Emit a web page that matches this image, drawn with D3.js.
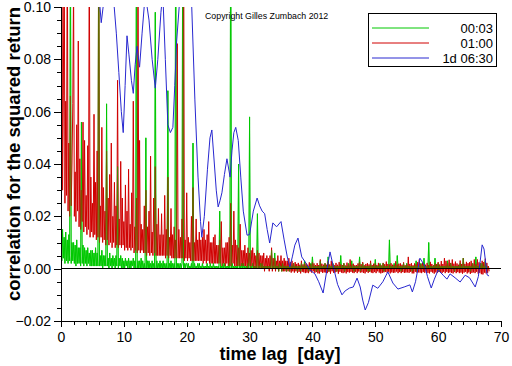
<!DOCTYPE html>
<html>
<head>
<meta charset="utf-8">
<script src="https://cdn.jsdelivr.net/npm/d3@7"></script>
<style>
  body { margin: 0; background: #fff; }
  svg { display: block; font-family: "Liberation Sans", Arial, sans-serif; }
</style>
</head>
<body>
<div id="chart"></div>
<script>
// lag step of the two intraday series, in days
const lagStep = 0.125

const seriesNames = ["00:03", "01:00", "1d 06:30"]
const seriesColors = ["#00c800", "#d00000", "#2828d0"]

const xTicks = [0, 10, 20, 30, 40, 50, 60, 70]
const yTicks = [-0.02, 0.00, 0.02, 0.04, 0.06, 0.08, 0.10]

// 01:00 series, 8 values per day
const redVals = [
  0.070, 0.180, 0.030, 0.066, 0.140, 0.025, 0.064, 0.028,
  0.130, 0.022, 0.048, 0.020, 0.066, 0.024, 0.040, 0.063,
  0.110, 0.020, 0.037, 0.018, 0.055, 0.022, 0.087, 0.016,
  0.042, 0.015, 0.030, 0.018, 0.056, 0.014, 0.049, 0.016,
  0.028, 0.013, 0.047, 0.015, 0.130, 0.012, 0.035, 0.014,
  0.025, 0.012, 0.059, 0.013, 0.033, 0.011, 0.045, 0.012,
  0.140, 0.010, 0.024, 0.012, 0.054, 0.010, 0.031, 0.011,
  0.022, 0.009, 0.045, 0.011, 0.027, 0.009, 0.036, 0.010,
  0.048, 0.008, 0.020, 0.010, 0.033, 0.008, 0.024, 0.009,
  0.072, 0.008, 0.019, 0.009, 0.041, 0.008, 0.027, 0.009,
  0.018, 0.007, 0.032, 0.008, 0.022, 0.007, 0.038, 0.008,
  0.017, 0.007, 0.029, 0.008, 0.064, 0.006, 0.016, 0.007,
  0.027, 0.006, 0.120, 0.007, 0.049, 0.006, 0.017, 0.007,
  0.015, 0.006, 0.024, 0.006, 0.030, 0.005, 0.016, 0.006,
  0.022, 0.005, 0.043, 0.006, 0.014, 0.005, 0.027, 0.006,
  0.039, 0.005, 0.017, 0.005, 0.023, 0.005, 0.013, 0.005,
  0.021, 0.005, 0.013, 0.005, 0.028, 0.004, 0.015, 0.005,
  0.035, 0.004, 0.012, 0.005, 0.023, 0.004, 0.013, 0.004,
  0.016, 0.004, 0.011, 0.004, 0.086, 0.004, 0.015, 0.004,
  0.012, 0.004, 0.019, 0.004, 0.150, 0.003, 0.011, 0.004,
  0.029, 0.003, 0.012, 0.004, 0.010, 0.003, 0.020, 0.003,
  0.031, 0.003, 0.010, 0.003, 0.019, 0.003, 0.011, 0.003,
  0.014, 0.003, 0.011, 0.003, 0.012, 0.002, 0.015, 0.003,
  0.011, 0.002, 0.013, 0.003, 0.018, 0.002, 0.010, 0.002,
  0.010, 0.002, 0.012, 0.002, 0.013, 0.002, 0.009, 0.002,
  0.009, 0.002, 0.011, 0.002, 0.018, 0.001, 0.008, 0.002,
  0.008, 0.001, 0.010, 0.002, 0.010, 0.001, 0.012, 0.001,
  0.025, 0.001, 0.009, 0.002, 0.022, 0.001, 0.011, 0.001,
  0.009, 0.001, 0.008, 0.001, 0.017, 0.001, 0.007, 0.001,
  0.007, 0.001, 0.009, 0.001, 0.006, 0.000, 0.008, 0.001,
  0.006, 0.000, 0.007, 0.001, 0.008, 0.000, 0.006, 0.000,
  0.005, 0.000, 0.007, 0.000, 0.006, 0.000, 0.005, 0.000,
  0.005, 0.000, 0.006, -0.001, 0.004, 0.000, 0.005, 0.000,
  0.004, -0.001, 0.005, 0.000, 0.008, -0.001, 0.004, 0.000,
  0.004, -0.001, 0.003, 0.000, 0.005, -0.001, 0.003, 0.000,
  0.005, -0.001, 0.003, -0.001, 0.004, -0.001, 0.003, -0.001,
  0.003, -0.001, 0.004, -0.001, 0.0025, -0.0015, 0.003, -0.001,
  0.002, -0.0015, 0.0025, -0.001, 0.0018, -0.0016, 0.0022, -0.0012,
  0.0015, -0.0018, 0.003, -0.0012, 0.0016, -0.0014, 0.002, -0.0017,
  0.002, -0.0015, 0.0015, -0.0017, 0.0024, -0.0011, 0.0017, -0.0015,
  0.0025, -0.001, 0.002, -0.0016, 0.0014, -0.0013, 0.0021, -0.0018,
  0.0014, -0.0018, 0.0035, -0.0012, 0.0019, -0.0016, 0.0015, -0.0014,
  0.002, -0.0015, 0.0015, -0.0017, 0.0028, -0.0012, 0.0016, -0.0019,
  0.003, -0.001, 0.0018, -0.0016, 0.0013, -0.0014, 0.0022, -0.0011,
  0.0015, -0.0019, 0.0025, -0.0012, 0.0017, -0.0015, 0.0014, -0.0017,
  0.002, -0.0014, 0.0012, -0.0018, 0.0023, -0.0013, 0.0016, -0.0015,
  0.0035, -0.0012, 0.0016, -0.0015, 0.0019, -0.0017, 0.0013, -0.0012,
  0.0014, -0.0017, 0.002, -0.0011, 0.0026, -0.0015, 0.0017, -0.0014,
  0.0025, -0.0016, 0.0013, -0.0018, 0.0018, -0.0012, 0.0021, -0.0016,
  0.0016, -0.0012, 0.003, -0.0015, 0.0014, -0.0017, 0.0019, -0.0013,
  0.002, -0.0017, 0.0014, -0.001, 0.0022, -0.0015, 0.0016, -0.0018,
  0.0012, -0.0016, 0.0022, -0.0014, 0.0017, -0.0012, 0.0027, -0.0015,
  0.0018, -0.0012, 0.0016, -0.0018, 0.0021, -0.0014, 0.0015, -0.0016,
  0.0014, -0.0015, 0.0028, -0.0011, 0.0016, -0.0017, 0.0019, -0.0013,
  0.002, -0.0017, 0.0015, -0.0013, 0.0024, -0.0016, 0.0013, -0.0015,
  0.0016, -0.0014, 0.0045, -0.0016, 0.0018, -0.0012, 0.0021, -0.0018,
  0.0013, -0.0018, 0.002, -0.0012, 0.0017, -0.0015, 0.0025, -0.0014,
  0.0035, -0.0015, 0.0017, -0.0017, 0.0022, -0.0013, 0.0016, -0.0016,
  0.0015, -0.0012, 0.0022, -0.0016, 0.0014, -0.0018, 0.0026, -0.0012,
  0.0018, -0.0015, 0.0013, -0.0019, 0.002, -0.0014, 0.0017, -0.0016,
  0.0025, -0.0013, 0.0016, -0.0015, 0.0029, -0.0017, 0.0018, -0.0012,
  0.004, -0.0017, 0.003, -0.0012, 0.0021, -0.0016, 0.0034, -0.0014,
  0.0022, -0.0016, 0.0035, -0.0018, 0.0019, -0.0013, 0.0027, -0.0017,
  0.002, -0.0013, 0.0015, -0.0017, 0.0031, -0.0015, 0.0018, -0.0019,
  0.004, -0.0015, 0.0018, -0.0012, 0.0026, -0.0018, 0.0021, -0.0014,
  0.0025, -0.002, 0.003, -0.0016, 0.0019, -0.0014, 0.0035, -0.0017,
  0.0018, -0.0012, 0.0035, -0.0019, 0.0024, -0.0016, 0.002, -0.0021,
  0.003, -0.0022, 0.0025, -0.0015, 0.0038, -0.0018, 0.0022, -0.0016,
  0.001, -0.001
]

// 00:03 series, 8 values per day
const greenVals = [
  0.027, 0.003, 0.015, 0.004, 0.012, 0.002, 0.014, 0.003,
  0.011, 0.002, 0.013, 0.003, 0.130, 0.002, 0.010, 0.003,
  0.010, 0.002, 0.009, 0.001, 0.011, 0.002, 0.008, 0.002,
  0.008, 0.001, 0.056, 0.002, 0.009, 0.001, 0.008, 0.002,
  0.007, 0.001, 0.008, 0.002, 0.006, 0.001, 0.007, 0.001,
  0.007, 0.001, 0.006, 0.001, 0.008, 0.001, 0.006, 0.001,
  0.140, 0.001, 0.005, 0.001, 0.007, 0.000, 0.005, 0.001,
  0.005, 0.001, 0.063, 0.001, 0.004, 0.000, 0.006, 0.001,
  0.004, 0.000, 0.005, 0.001, 0.004, 0.000, 0.005, 0.001,
  0.039, 0.000, 0.004, 0.001, 0.005, 0.000, 0.004, 0.000,
  0.003, 0.000, 0.004, 0.001, 0.003, 0.000, 0.004, 0.000,
  0.003, 0.000, 0.003, 0.001, 0.004, 0.000, 0.003, 0.000,
  0.140, 0.000, 0.003, 0.000, 0.003, 0.000, 0.004, 0.000,
  0.003, 0.000, 0.002, 0.000, 0.050, 0.000, 0.003, 0.000,
  0.003, 0.000, 0.002, 0.000, 0.003, 0.000, 0.002, 0.000,
  0.098, 0.000, 0.003, 0.000, 0.002, 0.000, 0.003, 0.000,
  0.002, 0.000, 0.003, 0.000, 0.002, 0.000, 0.002, 0.000,
  0.068, 0.000, 0.002, 0.000, 0.003, 0.000, 0.002, 0.000,
  0.002, 0.000, 0.150, 0.000, 0.002, 0.000, 0.002, 0.000,
  0.002, 0.000, 0.002, 0.150, 0.000, 0.002, 0.000, 0.002,
  0.002, 0.000, 0.002, 0.000, 0.001, 0.000, 0.002, 0.000,
  0.048, 0.000, 0.002, 0.000, 0.001, 0.000, 0.002, 0.000,
  0.002, 0.000, 0.001, 0.000, 0.002, 0.000, 0.001, 0.000,
  0.001, 0.000, 0.002, 0.000, 0.001, 0.000, 0.002, 0.000,
  0.001, 0.000, 0.002, 0.000, 0.001, 0.000, 0.001, 0.000,
  0.001, 0.000, 0.022, 0.000, 0.001, 0.000, 0.002, 0.000,
  0.002, 0.000, 0.001, 0.000, 0.001, 0.000, 0.002, 0.000,
  0.150, 0.000, 0.002, 0.000, 0.001, 0.000, 0.001, 0.000,
  0.001, 0.000, 0.040, 0.000, 0.001, 0.000, 0.002, 0.000,
  0.002, 0.000, 0.001, 0.000, 0.001, 0.000, 0.002, 0.000,
  0.058, 0.000, 0.001, 0.000, 0.002, 0.000, 0.001, 0.000,
  0.001, 0.000, 0.021, 0.000, 0.001, 0.000, 0.002, 0.000,
  0.002, 0.000, 0.001, 0.000, 0.001, 0.000, 0.001, 0.000,
  0.001, 0.000, 0.001, 0.000, 0.007, 0.000, 0.001, 0.000,
  0.006, 0.000, 0.001, 0.000, 0.001, -0.001, 0.002, 0.000,
  0.001, -0.001, 0.002, 0.000, 0.001, 0.000, 0.001, -0.001,
  0.001, 0.000, 0.001, -0.001, 0.002, 0.000, 0.001, 0.000,
  0.002, 0.000, 0.001, 0.000, 0.001, -0.001, 0.001, 0.000,
  0.001, -0.001, 0.002, 0.000, 0.001, 0.000, 0.003, 0.000,
  0.001, 0.000, 0.001, -0.001, 0.001, 0.000, 0.002, 0.000,
  0.0045, 0.000, 0.001, 0.000, 0.001, -0.001, 0.001, 0.000,
  0.001, -0.001, 0.003, 0.000, 0.001, 0.000, 0.001, 0.000,
  0.002, 0.000, 0.001, 0.000, 0.0045, -0.001, 0.001, 0.000,
  0.001, 0.000, 0.002, 0.000, 0.001, 0.000, 0.001, -0.001,
  0.001, 0.000, 0.001, 0.000, 0.005, 0.000, 0.001, 0.000,
  0.002, -0.001, 0.001, 0.000, 0.001, 0.000, 0.002, 0.000,
  0.001, 0.000, 0.003, 0.000, 0.001, -0.001, 0.001, 0.000,
  0.001, 0.000, 0.001, 0.000, 0.0045, -0.001, 0.001, 0.000,
  0.002, 0.000, 0.001, 0.000, 0.001, 0.000, 0.001, -0.001,
  0.001, -0.001, 0.002, 0.000, 0.001, 0.000, 0.001, 0.000,
  0.0035, 0.000, 0.001, 0.000, 0.001, 0.000, 0.002, 0.000,
  0.001, 0.000, 0.002, -0.001, 0.001, 0.000, 0.001, 0.000,
  0.001, 0.000, 0.011, 0.000, 0.001, 0.000, 0.001, 0.000,
  0.002, 0.000, 0.001, 0.000, 0.005, 0.000, 0.001, 0.000,
  0.001, -0.001, 0.001, 0.000, 0.002, 0.000, 0.001, 0.000,
  0.002, 0.000, 0.001, 0.000, 0.001, 0.000, 0.001, -0.001,
  0.001, 0.000, 0.001, 0.000, 0.003, -0.001, 0.001, 0.000,
  0.001, 0.000, 0.002, 0.000, 0.001, 0.000, 0.004, 0.000,
  0.001, 0.000, 0.001, 0.000, 0.010, 0.000, 0.001, 0.000,
  0.001, 0.000, 0.001, 0.000, 0.004, 0.000, 0.001, 0.000,
  0.002, -0.001, 0.001, 0.000, 0.001, 0.000, 0.001, 0.000,
  0.001, 0.000, 0.001, 0.000, 0.003, 0.000, 0.001, 0.000,
  0.002, 0.000, 0.001, 0.000, 0.001, -0.001, 0.001, 0.000,
  0.001, 0.000, 0.001, 0.000, 0.002, 0.000, 0.001, 0.000,
  0.004, 0.000, 0.001, 0.000, 0.001, 0.000, 0.001, 0.000,
  0.001, -0.001, 0.001, 0.000, 0.002, 0.000, 0.001, 0.000,
  0.0045, 0.000, 0.001, 0.000, 0.001, 0.000, 0.002, 0.000,
  0.002, 0.000, 0.001, 0.000, 0.003, 0.000, 0.001, 0.000,
  0.000, 0.000
]

// 1d 06:30 series, lag in days and correlation
const blueDays = [
  0, 5.5, 6.2, 6.4, 6.7, 7.5, 8.3, 8.8, 9.2, 9.6, 9.9, 10.2, 10.5, 10.8, 11.2, 11.5,
  11.8, 12.1, 12.5, 12.9, 13.4, 14.0, 14.5, 15.0, 15.4, 15.9, 16.2, 16.6, 17.0, 17.4,
  17.8, 18.1, 18.4, 18.8, 19.3, 20.0, 20.8, 21.3, 21.8, 22.2, 22.4, 22.8, 23.3, 23.7,
  24.0, 24.4, 24.7, 25.0, 25.3, 25.6, 26.0, 26.4, 26.9, 27.2, 27.5, 27.8, 28.2, 28.6,
  29.0, 29.6, 30.0, 30.6, 31.2, 31.6, 32.0, 32.4, 32.8, 33.2, 33.7, 34.3, 35.0, 35.5,
  36.0, 36.4, 36.8, 37.2, 37.7, 38.3, 39.0, 39.6, 40.4, 41.0, 41.7, 42.2, 42.8, 43.5,
  44.0, 44.7, 45.2, 45.9, 46.5, 47.1, 47.6, 48.0, 48.4, 48.9, 49.6, 50.4, 51.2, 52.0,
  52.8, 53.6, 54.6, 55.5, 55.9, 56.4, 57.1, 57.9, 58.3, 58.9, 59.4, 60.0, 60.8, 61.4,
  61.9, 62.7, 63.5, 64.3, 65.0, 65.9, 66.4, 67.0, 67.3, 67.8, 68.1
]
const blueVals = [
  0.200, 0.120, 0.100, 0.094, 0.100, 0.120, 0.105, 0.090, 0.075, 0.060, 0.052, 0.070, 0.089, 0.082, 0.072, 0.067,
  0.078, 0.085, 0.077, 0.090, 0.105, 0.095, 0.080, 0.069, 0.080, 0.098, 0.105, 0.080, 0.055, 0.052,
  0.054, 0.070, 0.087, 0.100, 0.110, 0.115, 0.100, 0.0645, 0.035, 0.018, 0.012, 0.020, 0.038, 0.050,
  0.053, 0.040, 0.030, 0.0236, 0.026, 0.029, 0.036, 0.042, 0.035, 0.045, 0.052, 0.054, 0.049, 0.035,
  0.022, 0.0128, 0.013, 0.022, 0.027, 0.024, 0.022, 0.021, 0.015, 0.0098, 0.0175, 0.016, 0.018, 0.011,
  0.0045, 0.0006, 0.0045, 0.009, 0.0117, 0.0045, 0.002, -0.0005, -0.002, -0.005, -0.0093, -0.002, 0.0064, -0.001,
  -0.006, -0.010, -0.0085, -0.0074, -0.007, -0.0036, -0.007, -0.012, -0.0158, -0.013, -0.0063, -0.0075, -0.005, -0.0012,
  -0.0055, -0.0078, -0.007, -0.0062, -0.0089, -0.005, 0.004, 0.001, -0.003, -0.0074, -0.004, -0.0005, -0.0025, -0.004,
  -0.002, -0.0035, -0.0051, -0.0025, -0.0035, -0.007, -0.003, 0.0091, 0.0075, -0.0024, -0.0028
]

const width = 512, height = 366
const margin = ({ top: 7, right: 11, bottom: 45, left: 61 })

const x = d3.scaleLinear().domain([0, 70]).range([margin.left, width - margin.right])
const y = d3.scaleLinear().domain([-0.02, 0.10]).range([height - margin.bottom, margin.top])

const svg = d3.select("#chart").append("svg")
    .attr("width", width)
    .attr("height", height)

svg.append("clipPath").attr("id", "plot")
  .append("rect")
    .attr("x", margin.left).attr("y", margin.top)
    .attr("width", width - margin.left - margin.right)
    .attr("height", height - margin.top - margin.bottom)

const stepLine = d3.line().x((d, i) => x(i * lagStep)).y(d => y(d))

const lines = svg.append("g").attr("clip-path", "url(#plot)").attr("fill", "none")

// 00:03 below, 01:00 over it, a faint 00:03 pass on top gives the olive overlaps
lines.append("path").datum(greenVals)
    .attr("stroke", seriesColors[0]).attr("stroke-width", 1)
    .attr("d", stepLine)

lines.append("path").datum(redVals)
    .attr("stroke", seriesColors[1]).attr("stroke-width", 1)
    .attr("d", stepLine)

lines.append("path").datum(greenVals)
    .attr("stroke", seriesColors[0]).attr("stroke-width", 1).attr("stroke-opacity", 0.4)
    .attr("d", stepLine)

lines.append("path").datum(blueVals)
    .attr("stroke", seriesColors[2]).attr("stroke-width", 1)
    .attr("d", d3.line().x((d, i) => x(blueDays[i])).y(d => y(d)))

// zero line
svg.append("line")
    .attr("x1", x(0)).attr("x2", x(70))
    .attr("y1", y(0)).attr("y2", y(0))
    .attr("stroke", "#000").attr("shape-rendering", "crispEdges")

// axes, minor ticks first
const xAxisG = svg.append("g").attr("transform", `translate(0,${y(-0.02)})`)
xAxisG.call(d3.axisBottom(x).tickValues(d3.range(0, 71, 2)).tickSize(4).tickFormat(""))
xAxisG.append("g")
    .call(d3.axisBottom(x).tickValues(xTicks).tickSize(6).tickPadding(5).tickFormat(d3.format("d")))

const yAxisG = svg.append("g").attr("transform", `translate(${x(0)},0)`)
yAxisG.call(d3.axisLeft(y).tickValues(d3.range(-0.02, 0.1001, 0.005)).tickSize(4).tickFormat(""))
yAxisG.append("g")
    .call(d3.axisLeft(y).tickValues(yTicks).tickSize(7).tickPadding(3).tickFormat(d3.format(".2f")))

svg.selectAll(".domain, .tick line").attr("stroke", "#000").attr("shape-rendering", "crispEdges")
svg.selectAll(".tick text")
    .attr("font-family", "Liberation Sans, Arial, sans-serif")
    .attr("font-size", 14)
    .attr("fill", "#000")

// axis titles
svg.append("text")
    .attr("x", 280).attr("y", 360)
    .attr("text-anchor", "middle")
    .attr("font-size", 18).attr("font-weight", "bold")
    .style("white-space", "pre")
    .text("time lag  [day]")

svg.append("text")
    .attr("transform", `translate(20,154) rotate(-90)`)
    .attr("text-anchor", "middle")
    .attr("font-size", 18.5).attr("font-weight", "bold")
    .text("correlation for the squared return")

// copyright
svg.append("text")
    .attr("x", 205).attr("y", 19)
    .attr("font-size", 8.8)
    .text("Copyright Gilles Zumbach 2012")

// legend
const legend = svg.append("g")
legend.append("rect")
    .attr("x", 368.5).attr("y", 13.5).attr("width", 128).attr("height", 53)
    .attr("fill", "#fff").attr("stroke", "#000")
const items = legend.selectAll("g.item").data(seriesNames).join("g")
    .attr("transform", (d, i) => `translate(0,${28 + i * 15})`)
items.append("line")
    .attr("x1", 372).attr("x2", 429)
    .attr("stroke", (d, i) => seriesColors[i])
items.append("text")
    .attr("x", 493).attr("y", 5)
    .attr("text-anchor", "end")
    .attr("font-size", 13)
    .text(d => d)
</script>
</body>
</html>
